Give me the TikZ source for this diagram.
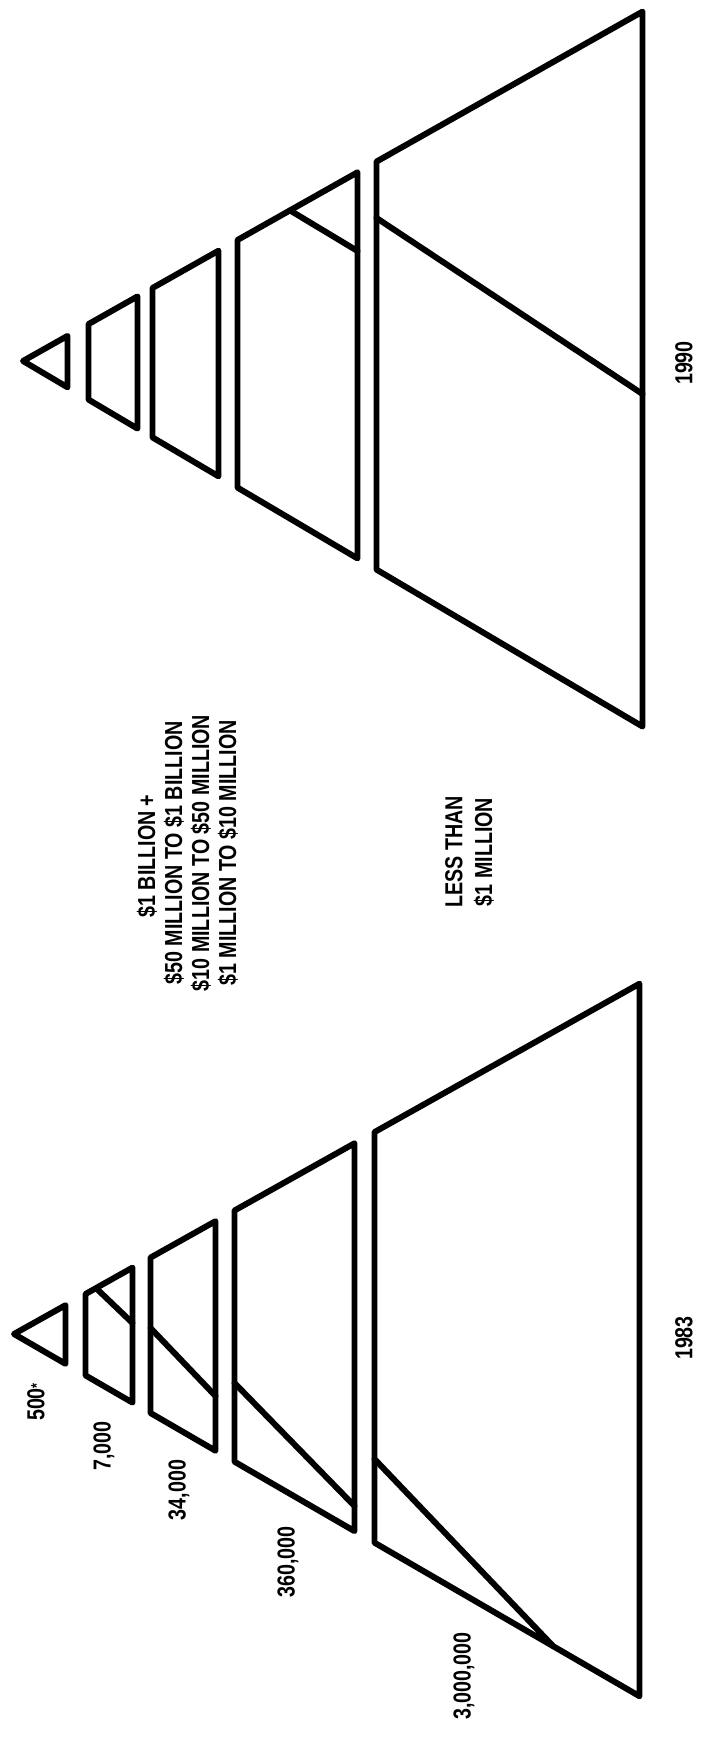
\documentclass[tikz,border=0pt]{standalone}
\usepackage{fontspec}
\setmainfont[FakeStretch=0.8]{Liberation Sans}
\begin{document}
\begin{tikzpicture}[x=0.02cm,y=-0.02cm,line join=round,line cap=round]
\tikzset{
  edge/.style={line width=3.4pt},
  lbl/.style={font=\bfseries\fontsize{14}{16}\selectfont,rotate=90,inner sep=0pt}
}
\useasboundingbox (0,0) rectangle (702,1744);
% ---------- 1990 pyramid ----------
\draw[edge] (23,361) -- (67.5,335.9) -- (67.5,387.3) -- cycle;
\draw[edge] (88.5,324.1) -- (137.5,296.4) -- (137.5,428.6) -- (88.5,399.6) -- cycle;
\draw[edge] (152.5,288.0) -- (218.5,250.7) -- (218.5,476.3) -- (152.5,437.4) -- cycle;
\draw[edge] (237.5,240.0) -- (357.5,172.3) -- (357.5,558.4) -- (237.5,487.6) -- cycle;
\draw[edge] (290,210.4) -- (357.5,251);
\draw[edge] (376.5,161.6) -- (642.5,11.6) -- (642.5,726.5) -- (376.5,569.6) -- cycle;
\draw[edge] (376.5,218) -- (642.5,394);
% ---------- 1983 pyramid ----------
\draw[edge] (14,1334) -- (65.5,1305.2) -- (65.5,1363.8) -- cycle;
\draw[edge] (85.5,1294.0) -- (132.5,1267.6) -- (132.5,1402.6) -- (85.5,1375.4) -- cycle;
\draw[edge] (97,1289) -- (132.5,1323);
\draw[edge] (150.5,1257.6) -- (215.5,1221.2) -- (215.5,1450.7) -- (150.5,1413.0) -- cycle;
\draw[edge] (150.5,1328) -- (215.5,1396);
\draw[edge] (234.5,1210.5) -- (354.5,1143.3) -- (354.5,1531.1) -- (234.5,1461.7) -- cycle;
\draw[edge] (234.5,1383) -- (354.5,1506);
\draw[edge] (374.5,1132.1) -- (639.5,983.7) -- (639.5,1696.2) -- (374.5,1542.7) -- cycle;
\draw[edge] (374.5,1459) -- (553,1646);
% ---------- labels ----------
\node[lbl] (l500) at (36,1402) {500\raisebox{0.1em}{\fontsize{9}{9}\selectfont*}};
\node[lbl] (l7) at (104,1446) {7,000};
\node[lbl] (l34) at (179,1490) {34,000};
\node[lbl] (l360) at (288,1562) {360,000};
\node[lbl] (l3m) at (464,1676) {3,000,000};
\node[lbl] (y83) at (684,1338) {1983};
\node[lbl] (y90) at (684,363) {1990};
\node[lbl] (k1) at (147,856) {\$1 BILLION +};
\node[lbl] (k2) at (174,853) {\$50 MILLION TO \$1 BILLION};
\node[lbl] (k3) at (201,853) {\$10 MILLION TO \$50 MILLION};
\node[lbl] (k4) at (228,853) {\$1 MILLION TO \$10 MILLION};
\node[lbl] (k5) at (454,852) {LESS THAN};
\node[lbl] (k6) at (484,852) {\$1 MILLION};
\end{tikzpicture}
\end{document}
